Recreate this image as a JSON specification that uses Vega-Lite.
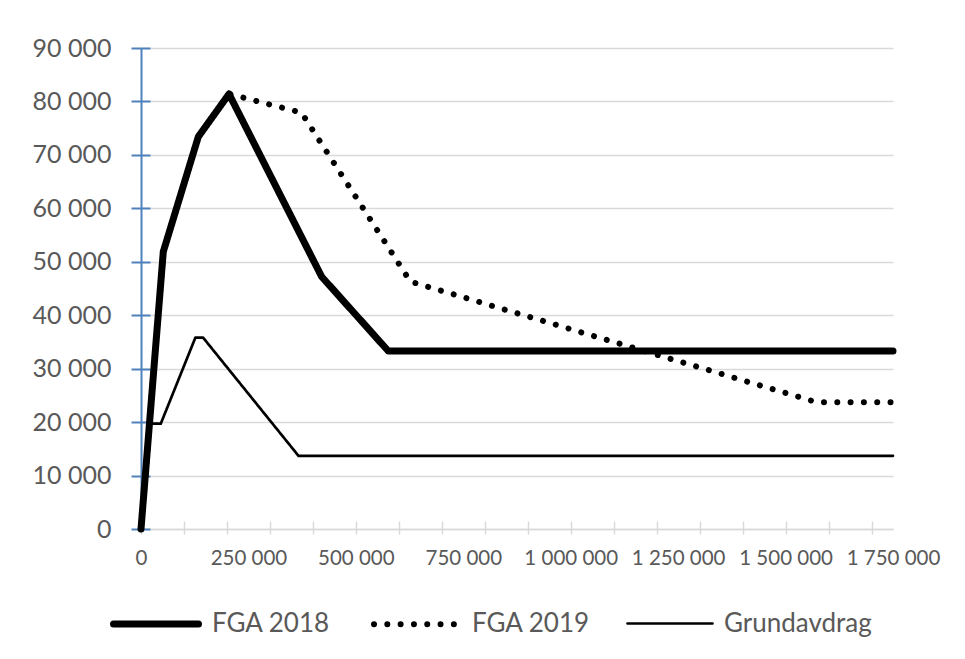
{
  "$schema": "https://vega.github.io/schema/vega-lite/v6.json",
  "width": 752,
  "height": 481,
  "autosize": {"type": "none"},
  "padding": {"left": 141, "top": 48, "right": 72, "bottom": 130},
  "background": "white",
  "config": {"view": {"stroke": null}, "font": "Lato"},
  "data": {
    "values": [
      {"series": "FGA 2018", "income": 0, "value": 0},
      {"series": "FGA 2018", "income": 51900, "value": 51900},
      {"series": "FGA 2018", "income": 133400, "value": 73400},
      {"series": "FGA 2018", "income": 204800, "value": 81400},
      {"series": "FGA 2018", "income": 420500, "value": 47200},
      {"series": "FGA 2018", "income": 575500, "value": 33300},
      {"series": "FGA 2018", "income": 1750000, "value": 33300},
      {"series": "FGA 2019", "income": 0, "value": 0},
      {"series": "FGA 2019", "income": 51900, "value": 51900},
      {"series": "FGA 2019", "income": 133400, "value": 73400},
      {"series": "FGA 2019", "income": 204800, "value": 81400},
      {"series": "FGA 2019", "income": 373500, "value": 77900},
      {"series": "FGA 2019", "income": 626900, "value": 46300},
      {"series": "FGA 2019", "income": 1573300, "value": 23700},
      {"series": "FGA 2019", "income": 1750000, "value": 23700},
      {"series": "Grundavdrag", "income": 0, "value": 0},
      {"series": "Grundavdrag", "income": 19700, "value": 19700},
      {"series": "Grundavdrag", "income": 46000, "value": 19700},
      {"series": "Grundavdrag", "income": 126500, "value": 35800},
      {"series": "Grundavdrag", "income": 144600, "value": 35800},
      {"series": "Grundavdrag", "income": 366400, "value": 13700},
      {"series": "Grundavdrag", "income": 1750000, "value": 13700}
    ]
  },
  "layer": [
    {
      "mark": {"type": "line", "opacity": 0},
      "encoding": {
        "x": {
          "field": "income", "type": "quantitative",
          "scale": {"domain": [0, 1750000], "nice": false, "zero": false},
          "axis": {
            "values": [0, 100000, 200000, 300000, 400000, 500000, 600000, 700000, 800000, 900000, 1000000, 1100000, 1200000, 1300000, 1400000, 1500000, 1600000, 1700000],
            "orient": "bottom", "offset": -8, "tickSize": 13, "tickColor": "#d9d9d9", "tickWidth": 1.5,
            "domain": false, "labels": false, "grid": false, "title": null
          }
        },
        "y": {
          "field": "value", "type": "quantitative",
          "scale": {"domain": [0, 90000], "nice": false},
          "axis": {
            "values": [0, 10000, 20000, 30000, 40000, 50000, 60000, 70000, 80000, 90000],
            "orient": "left", "offset": -9, "tickSize": 19, "tickColor": "#4F81BD", "tickWidth": 2,
            "domain": false, "labels": false, "grid": false, "title": null
          }
        },
        "detail": {"field": "series", "type": "nominal"}
      }
    },
    {
      "mark": {"type": "line", "strokeCap": "round", "strokeJoin": "round", "color": "black"},
      "encoding": {
        "x": {
          "field": "income", "type": "quantitative",
          "scale": {"domain": [0, 1750000], "nice": false, "zero": false},
          "axis": {
            "values": [0, 250000, 500000, 750000, 1000000, 1250000, 1500000, 1750000],
            "orient": "bottom", "title": null, "grid": false, "ticks": false,
            "domainColor": "#d9d9d9", "domainWidth": 1.5,
            "labelFontSize": 20.5, "labelColor": "#595959", "labelPadding": 19, "labelFlush": false,
            "labelExpr": "replace(format(datum.value, ','), regexp(',', 'g'), ' ')"
          }
        },
        "y": {
          "field": "value", "type": "quantitative",
          "scale": {"domain": [0, 90000], "nice": false},
          "axis": {
            "values": [0, 10000, 20000, 30000, 40000, 50000, 60000, 70000, 80000, 90000],
            "orient": "left", "title": null, "grid": true, "gridColor": "#d9d9d9", "gridWidth": 1.5,
            "ticks": false, "domainColor": "#4F81BD", "domainWidth": 2,
            "labelFontSize": 25, "labelColor": "#595959", "labelPadding": 30,
            "labelExpr": "replace(format(datum.value, ','), regexp(',', 'g'), ' ')"
          }
        },
        "color": {
          "field": "series", "type": "nominal",
          "scale": {"domain": ["FGA 2018", "FGA 2019", "Grundavdrag"], "range": ["black", "black", "black"]},
          "legend": {
            "orient": "none", "legendX": -31, "legendY": 530, "direction": "horizontal",
            "title": null, "symbolType": "stroke", "symbolSize": 7225,
            "labelFontSize": 26, "labelColor": "#595959", "labelOffset": 10, "columnPadding": 32,
            "encoding": {"symbols": {"strokeCap": {"value": "round"}}}
          }
        },
        "strokeWidth": {
          "field": "series", "type": "nominal",
          "scale": {"type": "ordinal", "domain": ["FGA 2018", "FGA 2019", "Grundavdrag"], "range": [7, 6, 2.7]},
          "legend": {
            "orient": "none", "legendX": -31, "legendY": 530, "direction": "horizontal",
            "title": null, "symbolType": "stroke", "symbolSize": 7225,
            "labelFontSize": 26, "labelColor": "#595959", "labelOffset": 10, "columnPadding": 32,
            "encoding": {"symbols": {"strokeCap": {"value": "round"}}}
          }
        },
        "strokeDash": {
          "field": "series", "type": "nominal",
          "scale": {"domain": ["FGA 2018", "FGA 2019", "Grundavdrag"], "range": [[1, 0], [0.01, 13.3], [1, 0]]},
          "legend": {
            "orient": "none", "legendX": -31, "legendY": 530, "direction": "horizontal",
            "title": null, "symbolType": "stroke", "symbolSize": 7225,
            "labelFontSize": 26, "labelColor": "#595959", "labelOffset": 10, "columnPadding": 32,
            "encoding": {"symbols": {"strokeCap": {"value": "round"}}}
          }
        }
      }
    }
  ],
  "resolve": {"axis": {"x": "independent", "y": "independent"}}
}
